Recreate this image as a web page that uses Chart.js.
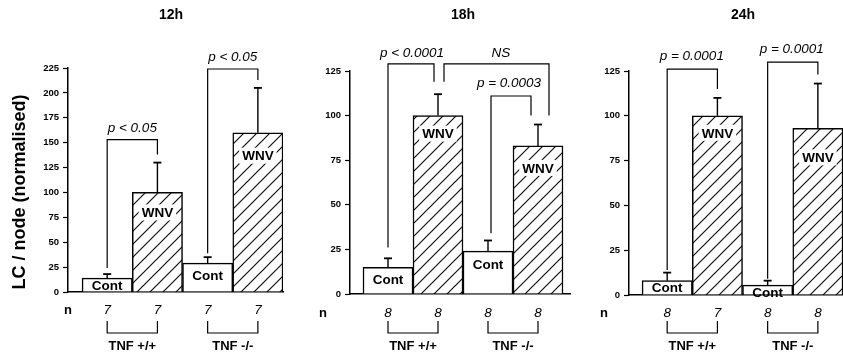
<!DOCTYPE html>
<html><head><meta charset="utf-8">
<script src="https://cdn.jsdelivr.net/npm/chart.js@4.4.1/dist/chart.umd.min.js"></script>
<style>
html,body{margin:0;padding:0;background:#fff;}
#wrap{position:relative;width:843px;height:355px;overflow:hidden;background:#fff;}
canvas{position:absolute;left:0;top:0;}
</style></head><body>
<div id="wrap">
<canvas id="c0" width="843" height="355"></canvas>
<canvas id="c1" width="843" height="355"></canvas>
<canvas id="c2" width="843" height="355"></canvas>
</div>
<script>
// ---------- data ----------
const panelTitles = ['12h', '18h', '24h'];
const groupLabels = ['TNF +/+', 'TNF -/-'];
const barLabels = ['Cont', 'WNV', 'Cont', 'WNV'];
const barPositions = [1, 2, 3, 4];
const yAxisTitle = 'LC / node (normalised)';
const nLabel = 'n';

const means12h = [14, 100, 29, 160];
const errTop12h = [18, 130, 35, 205];
const n12h = ['7', '7', '7', '7'];
const yTicks12h = [0, 25, 50, 75, 100, 125, 150, 175, 200, 225];
const pLabels12h = ['p < 0.05', 'p < 0.05'];

const means18h = [15, 100, 24, 83];
const errTop18h = [20, 112, 30, 95];
const n18h = ['8', '8', '8', '8'];
const yTicks18h = [0, 25, 50, 75, 100, 125];
const pLabels18h = ['p < 0.0001', 'NS', 'p = 0.0003'];

const means24h = [8, 100, 5.5, 93];
const errTop24h = [12.5, 110, 8, 118];
const n24h = ['8', '7', '8', '8'];
const yTicks24h = [0, 25, 50, 75, 100, 125];
const pLabels24h = ['p = 0.0001', 'p = 0.0001'];

// ---------- layout (positions / styles) ----------
const FAM = '"Liberation Sans", Arial, Helvetica, sans-serif';
const layouts = [
  { left: 68, right: 283, top: 68, bottom: 292, xMin: 0.22, xMax: 4.5, yMax: 225,
    titleX: 2.27, nX: 68, nY: 310, labelDy: [7, 20, 12, 23],
    brackets: [
      { x1: 1, y1: 24, x2: 2, y2: 138, top: 153, lx: 1.5, ly: 164 },
      { x1: 3, y1: 39, x2: 4, y2: 213, top: 224, lx: 3.5, ly: 236 } ] },
  { left: 350, right: 570, top: 71, bottom: 294, xMin: 0.24, xMax: 4.64, yMax: 125,
    titleX: 2.5, nX: 323, nY: 313, labelDy: [12, 18, 13, 22],
    brackets: [
      { x1: 1, y1: 26, x2: 1.92, y2: 119, top: 129, lx: 1.48, ly: 135 },
      { x1: 2.12, y1: 119, x2: 4.22, y2: 100, top: 129, lx: 3.26, ly: 135 },
      { x1: 3.06, y1: 34, x2: 3.86, y2: 100, top: 111, lx: 3.42, ly: 118 } ] },
  { left: 629, right: 843, top: 71, bottom: 295, xMin: 0.24, xMax: 4.5, yMax: 125,
    titleX: 2.51, nX: 604, nY: 313, labelDy: [7, 17, 7, 29],
    brackets: [
      { x1: 1, y1: 14, x2: 2, y2: 115, top: 126, lx: 1.49, ly: 133 },
      { x1: 3, y1: 9, x2: 4, y2: 123, top: 130, lx: 3.48, ly: 137 } ] }
];

const panels = [
  { means: means12h, err: errTop12h, n: n12h, ticks: yTicks12h, p: pLabels12h },
  { means: means18h, err: errTop18h, n: n18h, ticks: yTicks18h, p: pLabels18h },
  { means: means24h, err: errTop24h, n: n24h, ticks: yTicks24h, p: pLabels24h }
];

// hatch pattern
function makeHatch() {
  const s = 13;
  const c = document.createElement('canvas');
  c.width = s; c.height = s;
  const g = c.getContext('2d');
  g.fillStyle = '#fff'; g.fillRect(0, 0, s, s);
  g.strokeStyle = '#111'; g.lineWidth = 1.2;
  g.beginPath();
  g.moveTo(-1, s + 1); g.lineTo(s + 1, -1);
  g.moveTo(-2, 2); g.lineTo(2, -2);
  g.moveTo(s - 2, s + 2); g.lineTo(s + 2, s - 2);
  g.stroke();
  return g.createPattern(c, 'repeat');
}
const hatch = makeHatch();

function line(ctx, pts) {
  ctx.beginPath();
  ctx.moveTo(pts[0][0], pts[0][1]);
  for (let i = 1; i < pts.length; i++) ctx.lineTo(pts[i][0], pts[i][1]);
  ctx.stroke();
}

const annotPlugin = {
  id: 'annot',
  afterDatasetsDraw(chart, args, opts) {
    const idx = opts.idx;
    const P = panels[idx], L = layouts[idx];
    const ctx = chart.ctx, xs = chart.scales.x, ys = chart.scales.y;
    const X = v => xs.getPixelForValue(v), Y = v => ys.getPixelForValue(v);
    ctx.save();
    ctx.strokeStyle = '#000'; ctx.fillStyle = '#000';
    ctx.lineCap = 'butt';
    // error bars
    P.means.forEach((m, i) => {
      const x = X(barPositions[i]), y0 = Y(m), y1 = Y(P.err[i]);
      ctx.lineWidth = 1.4; line(ctx, [[x, y0], [x, y1]]);
      ctx.lineWidth = 1.8; line(ctx, [[x - 4, y1], [x + 4, y1]]);
    });
    // bar labels
    ctx.font = 'bold 13.5px ' + FAM;
    ctx.textAlign = 'center'; ctx.textBaseline = 'middle';
    barLabels.forEach((t, i) => {
      const x = X(barPositions[i]), y = Y(P.means[i]) + L.labelDy[i];
      if (i % 2 === 1) {
        const w = ctx.measureText(t).width;
        ctx.fillStyle = '#fff';
        ctx.fillRect(x - w / 2 - 3, y - 8, w + 6, 16);
        ctx.fillStyle = '#000';
      }
      ctx.fillText(t, x, y + 1);
    });
    // significance brackets
    ctx.lineWidth = 1.2;
    L.brackets.forEach((b, i) => {
      line(ctx, [[X(b.x1), Y(b.y1)], [X(b.x1), Y(b.top)], [X(b.x2), Y(b.top)], [X(b.x2), Y(b.y2)]]);
      ctx.font = 'italic 13.5px ' + FAM;
      ctx.fillText(P.p[i], X(b.lx), Y(b.ly));
    });
    // title
    ctx.font = 'bold 14px ' + FAM;
    ctx.fillText(panelTitles[idx], X(L.titleX), 15);
    // n row
    ctx.font = 'bold 13px ' + FAM;
    ctx.fillText(nLabel, L.nX, L.nY);
    ctx.font = 'italic 13.5px ' + FAM;
    P.n.forEach((t, i) => ctx.fillText(t, X(barPositions[i]), L.nY));
    // group brackets
    ctx.lineWidth = 1.2;
    groupLabels.forEach((g, k) => {
      const xa = X(barPositions[2 * k]), xb = X(barPositions[2 * k + 1]);
      line(ctx, [[xa, 321], [xa, 333], [xb, 333], [xb, 321]]);
      ctx.font = 'bold 13px ' + FAM;
      ctx.fillText(g, (xa + xb) / 2, 346);
    });
    // y axis title
    if (idx === 0) {
      ctx.save();
      ctx.translate(20, 192);
      ctx.rotate(-Math.PI / 2);
      ctx.font = 'bold 18px ' + FAM;
      ctx.fillText(yAxisTitle, 0, 0);
      ctx.restore();
    }
    ctx.restore();
  }
};

panels.forEach((P, idx) => {
  const L = layouts[idx];
  const YW = 30;
  new Chart(document.getElementById('c' + idx), {
    type: 'bar',
    data: {
      datasets: [{
        data: barPositions.map((x, i) => ({ x: x, y: P.means[i] })),
        backgroundColor: barLabels.map((t, i) => i % 2 ? hatch : '#fff'),
        borderColor: '#000',
        borderWidth: 1.5,
        borderSkipped: 'start',
        categoryPercentage: 1,
        barPercentage: 1
      }]
    },
    options: {
      responsive: false,
      animation: false,
      devicePixelRatio: 1,
      datasets: { bar: { categoryPercentage: 1, barPercentage: 1 } },
      layout: { padding: { left: L.left - YW, right: 843 - L.right, top: L.top, bottom: 355 - L.bottom } },
      plugins: { legend: { display: false }, tooltip: { enabled: false }, title: { display: false }, annot: { idx: idx } },
      scales: {
        x: {
          type: 'linear', min: L.xMin, max: L.xMax, offset: false,
          afterBuildTicks: s => { s.ticks = barPositions.map(v => ({ value: v })); },
          afterFit: s => { s.height = 0; },
          ticks: { display: false },
          grid: { display: false, offset: false },
          border: { display: true, color: '#000', width: 1.5 }
        },
        y: {
          min: 0, max: L.yMax,
          afterBuildTicks: s => { s.ticks = P.ticks.map(v => ({ value: v })); },
          afterFit: s => { s.width = YW; },
          ticks: { color: '#000', padding: 4, font: { family: FAM, size: 9.5, weight: 'bold' } },
          grid: { display: true, drawOnChartArea: false, drawTicks: true, tickLength: 5, tickColor: '#000', tickWidth: 1.2 },
          border: { display: true, color: '#000', width: 1.5 }
        }
      }
    },
    plugins: [annotPlugin]
  });
});
</script>
</body></html>
